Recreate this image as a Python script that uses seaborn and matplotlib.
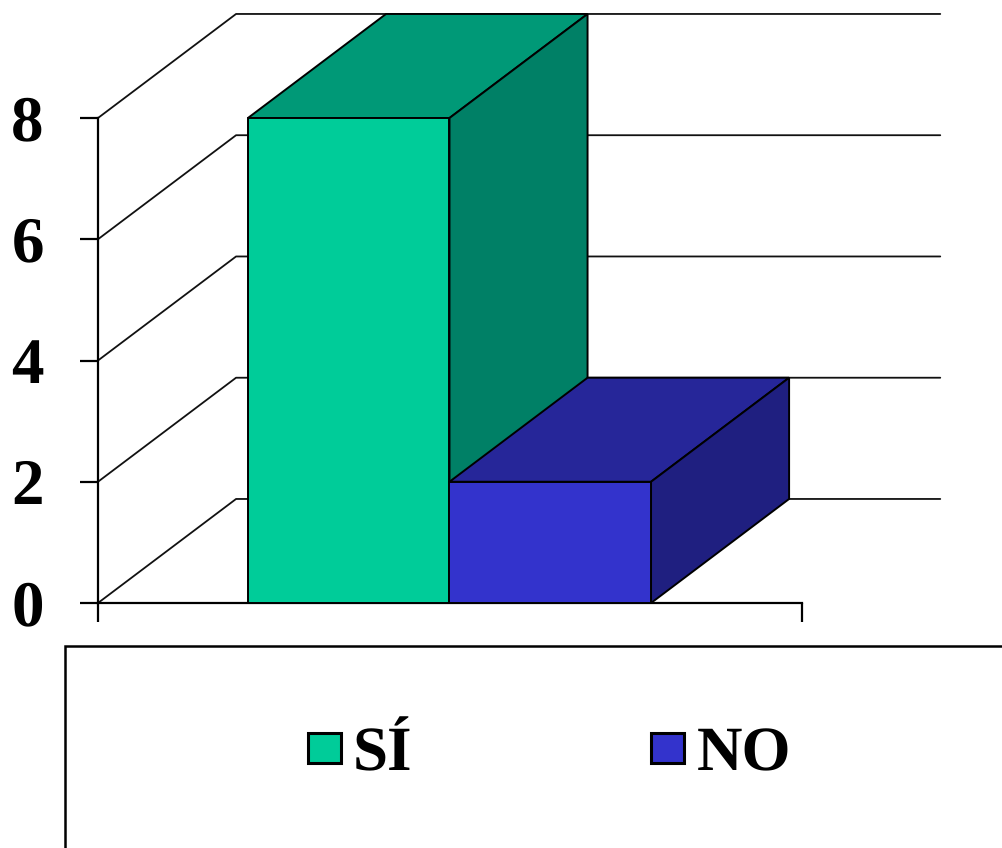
import matplotlib
matplotlib.use("Agg")
import matplotlib.pyplot as plt
from matplotlib.patches import Polygon, Rectangle
import pandas as pd
import seaborn as sns

# ── Data ───────────────────────────────────────────────
categories = ["SÍ", "NO"]
values = [8, 2]
y_ticks = [0, 2, 4, 6, 8]

FRONT = {"SÍ": "#00CC99", "NO": "#3333CC"}
TOP = {"SÍ": "#009977", "NO": "#262699"}
SIDE = {"SÍ": "#008066", "NO": "#1F1F80"}

# fake 3D depth, in data units
DEPTH_X = 0.685
DEPTH_Y = 1.716
X_LEFT, X_RIGHT = -1.244, 2.249
WALL_RIGHT = 2.935

W, H = 1002, 848
sns.set_theme(style="ticks")
plt.rcParams["font.family"] = ["Liberation Serif", "DejaVu Serif"]
plt.rcParams["text.hinting"] = "no_hinting"
plt.rcParams["text.hinting_factor"] = 1

fig = plt.figure(figsize=(W / 100, H / 100), dpi=100, facecolor="white")
ax = fig.add_axes([98 / W, (H - 603) / H, (802 - 98) / W, (603 - 118) / H])
ax.patch.set_visible(False)

df = pd.DataFrame({"cat": categories, "val": values})
sns.barplot(data=df, x="cat", y="val", hue="cat", palette=FRONT, dodge=False,
            width=1, saturation=1, edgecolor="black", linewidth=1.4,
            legend=False, ax=ax)

ax.set_xlim(X_LEFT, X_RIGHT)
ax.set_ylim(0, 8)
ax.set_xlabel("")
ax.set_ylabel("")

# back wall gridlines
for v in y_ticks:
    ax.plot([X_LEFT, X_LEFT + DEPTH_X, WALL_RIGHT], [v, v + DEPTH_Y, v + DEPTH_Y],
            color="#111111", lw=1.3, clip_on=False, zorder=1)

# top and side faces of each bar
for i, (bar, cat) in enumerate(zip(ax.patches, categories)):
    x0 = bar.get_x()
    x1 = x0 + bar.get_width()
    h = bar.get_height()
    bar.set_zorder(6)
    bar.set_clip_on(False)
    top = [(x0, h), (x1, h), (x1 + DEPTH_X, h + DEPTH_Y), (x0 + DEPTH_X, h + DEPTH_Y)]
    side = [(x1, 0), (x1 + DEPTH_X, DEPTH_Y), (x1 + DEPTH_X, h + DEPTH_Y), (x1, h)]
    ax.add_patch(Polygon(top, closed=True, facecolor=TOP[cat], edgecolor="black",
                         lw=1.4, clip_on=False, zorder=3 + i))
    ax.add_patch(Polygon(side, closed=True, facecolor=SIDE[cat], edgecolor="black",
                         lw=1.4, clip_on=False, zorder=3 + i))

# axes
ax.spines[["top", "right"]].set_visible(False)
for s in ["left", "bottom"]:
    ax.spines[s].set_linewidth(1.6)
    ax.spines[s].set_color("black")
    ax.spines[s].set_zorder(2)
ax.set_xticks([X_LEFT, X_RIGHT])
ax.set_xticklabels(["", ""])
ax.set_yticks(y_ticks)
ax.tick_params(axis="x", direction="out", length=14, width=1.6, color="black")
ax.tick_params(axis="y", direction="out", length=13, width=1.6, color="black",
               pad=26, labelsize=47, labelcolor="black")
for lab in ax.get_yticklabels():
    lab.set_fontweight("bold")

# legend box runs off the figure on the right and bottom
fig.add_artist(Rectangle((65 / W, -0.05), 1.0, (H - 646) / H + 0.05, transform=fig.transFigure,
                         facecolor="white", edgecolor="black", lw=1.8))

handles = [plt.Rectangle((0, 0), 1, 1, facecolor=FRONT[c], edgecolor="black", lw=2.2)
           for c in categories]
fig.legend(handles, categories, ncol=2, frameon=False, loc="center left",
           bbox_to_anchor=(308 / W, (H - 755) / H), borderaxespad=0, borderpad=0,
           prop={"family": "Liberation Serif", "weight": "bold", "size": 45},
           handlelength=0.52, handleheight=0.36, handletextpad=0.2,
           columnspacing=3.82, labelcolor="black")

fig.savefig("out.png", dpi=100, facecolor="white")
